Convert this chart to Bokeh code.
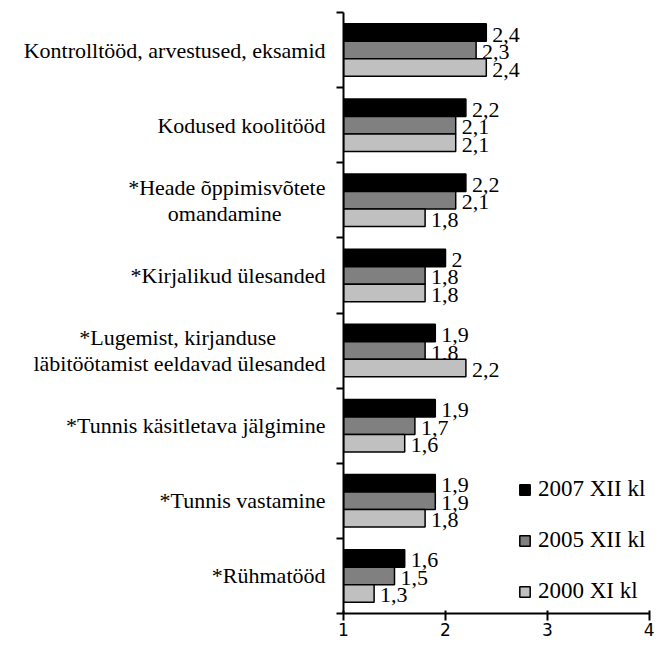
from bokeh.plotting import figure
from bokeh.models import Range1d, FixedTicker, Legend, LegendItem
from bokeh.core.properties import value
from bokeh.embed import file_html
from bokeh.resources import INLINE

# ---- data ----
categories = [
    "Kontrolltööd, arvestused, eksamid",
    "Kodused koolitööd",
    "*Heade õppimisvõtete\nomandamine",
    "*Kirjalikud ülesanded",
    "*Lugemist, kirjanduse\nläbitöötamist eeldavad ülesanded",
    "*Tunnis käsitletava jälgimine",
    "*Tunnis vastamine",
    "*Rühmatööd",
]
series_names = ["2007 XII kl", "2005 XII kl", "2000 XI kl"]
values_2007 = [2.4, 2.2, 2.2, 2.0, 1.9, 1.9, 1.9, 1.6]
values_2005 = [2.3, 2.1, 2.1, 1.8, 1.8, 1.7, 1.9, 1.5]
values_2000 = [2.4, 2.1, 1.8, 1.8, 2.2, 1.6, 1.8, 1.3]
x_ticks = [1, 2, 3, 4]

# ---- styling ----
colors = ["#000000", "#808080", "#C0C0C0"]
offsets = [0.233, 0.0, -0.233]
bar_h = 0.233
SERIF = "Liberation Serif"
NBSP = "\u00a0"


def centered_lines(label):
    """Pad the shorter line so that right-aligned multi-line labels look centred."""
    lines = label.split("\n")
    if len(lines) == 1:
        return label
    pads = {"omandamine": 8, "*Lugemist, kirjanduse": 9}
    return "\n".join(l + NBSP * pads.get(l, 0) for l in lines)


n = len(categories)
centers = [n - 1 - i + 0.5 for i in range(n)]

p = figure(width=654, height=643, output_backend="svg", toolbar_location=None,
           x_range=Range1d(x_ticks[0], x_ticks[-1]), y_range=Range1d(0, n),
           min_border_left=343, min_border_right=5, min_border_top=12, min_border_bottom=30)
p.outline_line_color = None
p.grid.visible = False
p.background_fill_color = "white"

renderers = []
for vals, col, off in zip([values_2007, values_2005, values_2000], colors, offsets):
    ys = [c + off for c in centers]
    r = p.hbar(y=ys, left=x_ticks[0], right=vals, height=bar_h,
               fill_color=col, line_color="black", line_width=1.5)
    renderers.append(r)
    labels = [f"{v:g}".replace(".", ",") for v in vals]
    p.text(x=vals, y=ys, text=labels, x_offset=6, y_offset=2,
           text_baseline="middle", text_align="left",
           text_font=value(SERIF), text_font_size="22px", text_color="black")

# x axis
xa = p.xaxis[0]
xa.ticker = FixedTicker(ticks=x_ticks)
xa.axis_line_width = 2
xa.major_tick_line_width = 2
xa.major_tick_in = 3
xa.major_tick_out = 7
xa.minor_tick_line_color = None
xa.major_label_standoff = 2
xa.major_label_text_font = "DejaVu Sans"
xa.major_label_text_font_size = "17px"
xa.major_label_text_color = "black"

# y axis
ya = p.yaxis[0]
ya.ticker = FixedTicker(ticks=centers, minor_ticks=list(range(0, n + 1)))
ya.major_tick_line_color = None
ya.major_tick_out = 7
ya.major_tick_in = 0
ya.minor_tick_out = 7
ya.minor_tick_in = 0
ya.minor_tick_line_width = 2
ya.minor_tick_line_color = "black"
ya.axis_line_width = 2
ya.major_label_standoff = 11
ya.major_label_overrides = {c: centered_lines(lab) for c, lab in zip(centers, categories)}
ya.major_label_text_font = SERIF
ya.major_label_text_font_size = "22px"
ya.major_label_text_line_height = 1.05
ya.major_label_text_color = "black"

legend = Legend(items=[LegendItem(label=nm, renderers=[r]) for nm, r in zip(series_names, renderers)],
                location=(175, 9), orientation="vertical",
                glyph_width=13, glyph_height=13, label_height=24, spacing=25,
                padding=0, margin=0, label_standoff=7,
                label_text_font=SERIF, label_text_font_size="23px",
                label_text_color="black",
                border_line_color=None, background_fill_alpha=0)
p.add_layout(legend)

open("out.html", "w").write(file_html(p, INLINE))
